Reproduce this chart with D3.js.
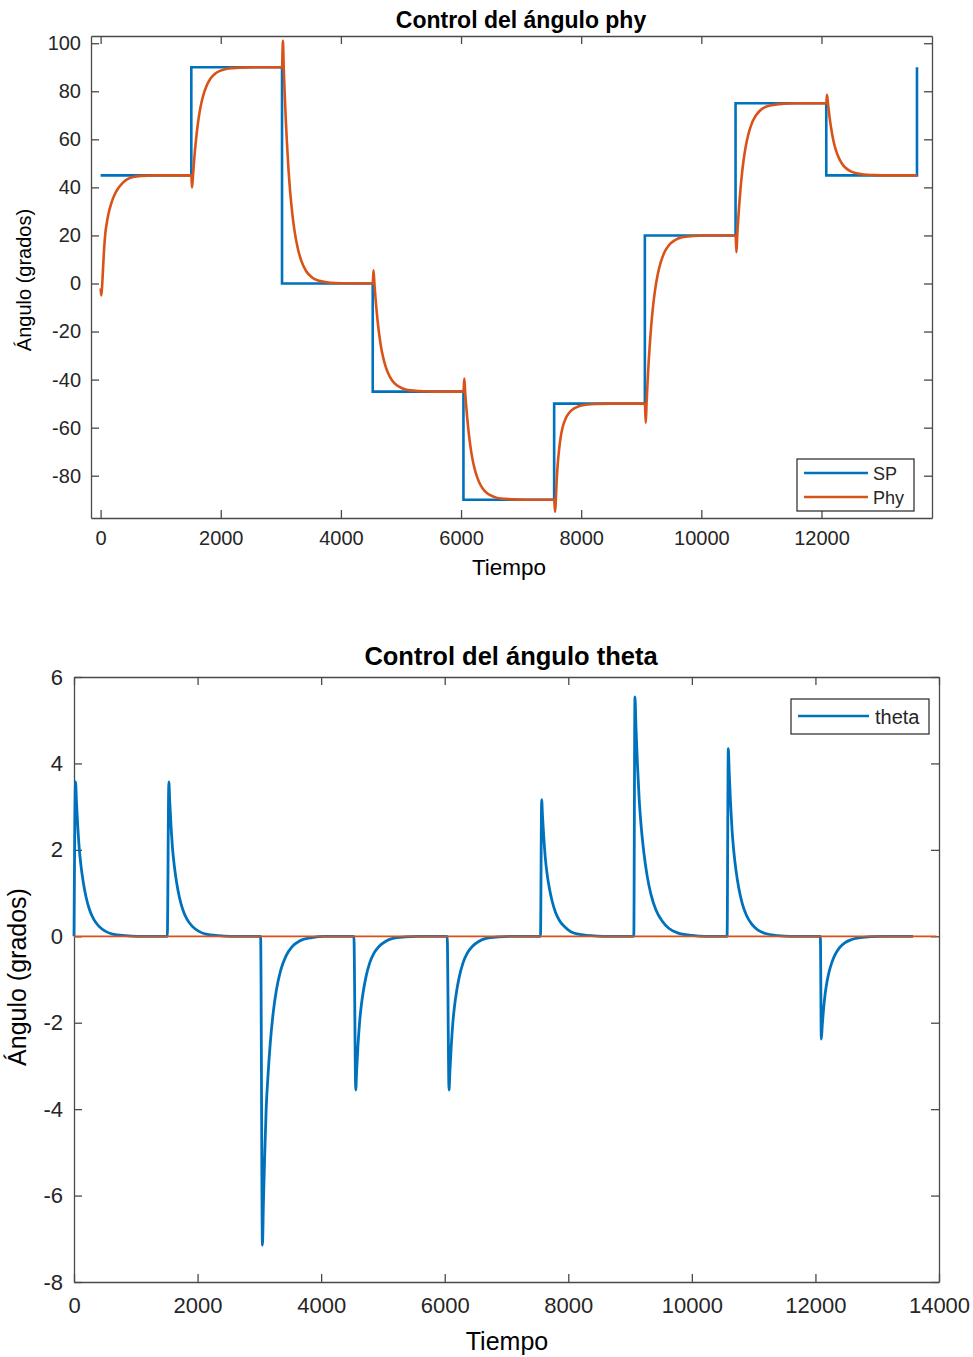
<!DOCTYPE html>
<html>
<head>
<meta charset="utf-8">
<script src="https://cdn.jsdelivr.net/npm/d3@7"></script>
<style>
  body { margin: 0; background: #fff; }
  svg { font-family: "Liberation Sans", Arial, Helvetica, sans-serif; }
</style>
</head>
<body>
<div class="chart"></div>
<script>
// ---- data ----
// top plot: set point (step changes) and measured phy angle
var spTime = [0, 1510, 3020, 4530, 6040, 7550, 9060, 10570, 12080, 13590];
var spValues = [45, 90, 0, -45, -90, -50, 20, 75, 45, 90];

var phyPoints = [
  [0, -2], [12, -5], [25, -1], [40, 6], [55, 13], [78, 20.8], [105, 25.5], [133, 29.2], [165, 32.3],
  [190, 34.3], [230, 36.8], [290, 39.5], [360, 41.7], [440, 43.3], [540, 44.3], [680, 44.8], [900, 45], [1510, 45],
  [1522, 40], [1538, 45], [1555, 50.7], [1572, 55.7], [1590, 60.3], [1615, 65.7], [1645, 70.9], [1680, 75.4],
  [1720, 79.2], [1770, 82.6], [1830, 85.3], [1910, 87.4], [2010, 88.7], [2130, 89.5], [2310, 89.8], [2510, 90], [3020, 90],
  [3035, 101], [3048, 90], [3065, 78.6], [3082, 68.6], [3100, 59.4], [3125, 48.6], [3155, 38.3], [3190, 29.3],
  [3230, 21.6], [3280, 14.9], [3340, 9.5], [3420, 5.2], [3520, 2.5], [3640, 1.1], [3820, 0.3], [4020, 0.1], [4530, 0],
  [4543, 5.5], [4558, 0], [4575, -5.7], [4592, -10.7], [4610, -15.3], [4635, -20.7], [4665, -25.9], [4700, -30.4],
  [4740, -34.2], [4790, -37.6], [4850, -40.3], [4930, -42.4], [5030, -43.7], [5150, -44.5], [5330, -44.8], [5530, -45], [6040, -45],
  [6055, -39.6], [6068, -45], [6085, -50.7], [6102, -55.7], [6120, -60.3], [6145, -65.7], [6175, -70.9], [6210, -75.4],
  [6250, -79.2], [6300, -82.6], [6360, -85.3], [6440, -87.4], [6540, -88.7], [6660, -89.5], [6840, -89.8], [7040, -90], [7550, -90],
  [7566, -95], [7578, -90], [7592, -82], [7610, -75], [7635, -68.5], [7665, -63], [7700, -59], [7745, -56],
  [7800, -53.8], [7870, -52.2], [7960, -51.1], [8080, -50.5], [8250, -50.15], [8500, -50], [9060, -50],
  [9075, -58], [9088, -50], [9105, -41.1], [9122, -33.3], [9140, -26.2], [9165, -17.8], [9195, -9.8], [9230, -2.75],
  [9270, 3.2], [9320, 8.45], [9380, 12.65], [9460, 15.9], [9560, 18], [9680, 19.2], [9860, 19.75], [10060, 20], [10570, 20],
  [10585, 13], [10598, 20], [10615, 27], [10632, 33.1], [10650, 38.7], [10675, 45.3], [10705, 51.6], [10740, 57.1],
  [10780, 61.8], [10830, 65.9], [10890, 69.2], [10970, 71.8], [11070, 73.5], [11190, 74.3], [11370, 74.8], [11570, 75], [12080, 75],
  [12092, 78.5], [12108, 75], [12125, 71.2], [12142, 67.9], [12160, 64.8], [12185, 61.2], [12215, 57.75], [12250, 54.75],
  [12290, 52.2], [12340, 49.95], [12400, 48.15], [12480, 46.75], [12580, 45.85], [12700, 45.35], [12880, 45.1], [13080, 45], [13590, 45]
];

var phyTicksX = [0, 2000, 4000, 6000, 8000, 10000, 12000];
var phyTicksY = [-80, -60, -40, -20, 0, 20, 40, 60, 80, 100];

// bottom plot: theta angle and its zero reference
var thetaPoints = [
  [0, 0], [25, 3.57], [40, 3.11], [60, 2.57], [85, 2.03], [115, 1.61], [150, 1.25], [195, 0.91], [250, 0.62],
  [320, 0.39], [405, 0.23], [505, 0.12], [625, 0.05], [825, 0.014], [1025, 0], [1510, 0],
  [1535, 3.57], [1550, 3.11], [1570, 2.57], [1595, 2.03], [1625, 1.61], [1660, 1.25], [1705, 0.91], [1760, 0.62],
  [1830, 0.39], [1915, 0.23], [2015, 0.12], [2135, 0.05], [2335, 0.014], [2535, 0], [3020, 0],
  [3050, -7.15], [3065, -6.22], [3085, -5.15], [3110, -4.0], [3140, -3.22], [3175, -2.5], [3220, -1.82], [3275, -1.25],
  [3345, -0.79], [3430, -0.46], [3530, -0.24], [3650, -0.11], [3850, -0.03], [4050, 0], [4530, 0],
  [4560, -3.56], [4575, -3.1], [4595, -2.56], [4620, -2.03], [4650, -1.6], [4685, -1.25], [4730, -0.91], [4785, -0.62],
  [4855, -0.39], [4940, -0.23], [5040, -0.12], [5160, -0.05], [5360, -0.014], [5560, 0], [6040, 0],
  [6070, -3.56], [6085, -3.1], [6105, -2.56], [6130, -2.03], [6160, -1.6], [6195, -1.25], [6240, -0.91], [6295, -0.62],
  [6365, -0.39], [6450, -0.23], [6550, -0.12], [6670, -0.05], [6870, -0.014], [7070, 0], [7550, 0],
  [7569, 3.16], [7584, 2.75], [7604, 2.28], [7629, 1.8], [7659, 1.42], [7694, 1.11], [7739, 0.81], [7794, 0.55],
  [7864, 0.35], [7949, 0.21], [8049, 0.1], [8169, 0.05], [8369, 0.013], [8569, 0], [9060, 0],
  [9079, 5.54], [9096, 4.82], [9119, 3.99], [9148, 3.16], [9183, 2.49], [9223, 1.94], [9275, 1.41], [9338, 0.97],
  [9419, 0.61], [9516, 0.36], [9631, 0.18], [9769, 0.08], [9999, 0.02], [10229, 0], [10570, 0],
  [10590, 4.34], [10605, 3.78], [10625, 3.12], [10650, 2.47], [10680, 1.95], [10715, 1.52], [10760, 1.11], [10815, 0.76],
  [10885, 0.48], [10970, 0.28], [11070, 0.14], [11190, 0.065], [11390, 0.017], [11590, 0], [12080, 0],
  [12095, -2.38], [12110, -2.07], [12130, -1.71], [12155, -1.36], [12185, -1.07], [12220, -0.83], [12265, -0.61], [12320, -0.42],
  [12390, -0.26], [12475, -0.15], [12575, -0.08], [12695, -0.036], [12895, -0.01], [13095, 0], [13580, 0]
];
var thetaRefTime = [0, 13960];
var thetaRefValues = [0, 0];

var thetaTicksX = [0, 2000, 4000, 6000, 8000, 10000, 12000, 14000];
var thetaTicksY = [-8, -6, -4, -2, 0, 2, 4, 6];

var blue = "#0072BD";
var orange = "#D95319";
var axisColor = "#4a4a4a";

var svg = d3.select(".chart")
  .append("svg")
  .attr("width", 973)
  .attr("height", 1357);

// draws a MATLAB style boxed axes
function drawBox(g, x, y, ticksX, ticksY, fontSize, padX, padY) {
  var right = x.range()[1], bot = y.range()[0], up = y.range()[1], left = x.range()[0];

  var bottomAxis = g.append("g")
    .attr("transform", `translate(0, ${bot})`)
    .call(d3.axisBottom(x).tickValues(ticksX).tickFormat(d3.format("d"))
      .tickSizeInner(-8).tickSizeOuter(0).tickPadding(padX));
  var leftAxis = g.append("g")
    .attr("transform", `translate(${left}, 0)`)
    .call(d3.axisLeft(y).tickValues(ticksY).tickFormat(function(d) { return String(d); })
      .tickSizeInner(-8).tickSizeOuter(0).tickPadding(padY));
  var topAxis = g.append("g")
    .attr("transform", `translate(0, ${up})`)
    .call(d3.axisTop(x).tickValues(ticksX).tickFormat("")
      .tickSizeInner(-8).tickSizeOuter(0));
  var rightAxis = g.append("g")
    .attr("transform", `translate(${right}, 0)`)
    .call(d3.axisRight(y).tickValues(ticksY).tickFormat("")
      .tickSizeInner(-8).tickSizeOuter(0));

  [bottomAxis, leftAxis, topAxis, rightAxis].forEach(function(a) {
    a.selectAll("path, line").attr("stroke", axisColor).attr("stroke-width", 1.3);
    a.selectAll("text").attr("font-size", fontSize).attr("fill", "#262626")
      .attr("font-family", "'Liberation Sans', Arial, sans-serif");
  });
}

// ---------------- top chart ----------------
var x1 = d3.scaleLinear().domain([-160, 13840]).range([91, 932]);
var y1 = d3.scaleLinear().domain([-97.6, 103]).range([518, 36]);

var topChart = svg.append("g");
drawBox(topChart, x1, y1, phyTicksX, phyTicksY, 20, 13, 10);

var spLine = d3.line()
  .x(function(d, i) { return x1(spTime[i]); })
  .y(function(d) { return y1(d); })
  .curve(d3.curveStepAfter);

topChart.append("path")
  .datum(spValues)
  .attr("d", spLine)
  .attr("fill", "none")
  .attr("stroke", blue)
  .attr("stroke-width", 2.6);

var phyLine = d3.line()
  .x(function(d) { return x1(d[0]); })
  .y(function(d) { return y1(d[1]); })
  .curve(d3.curveMonotoneX);

topChart.append("path")
  .datum(phyPoints)
  .attr("d", phyLine)
  .attr("fill", "none")
  .attr("stroke", orange)
  .attr("stroke-width", 2.6)
  .attr("stroke-linejoin", "round");

topChart.append("text")
  .attr("x", 521).attr("y", 28)
  .attr("text-anchor", "middle")
  .attr("font-size", 23).attr("font-weight", "bold")
  .attr("fill", "#000")
  .text("Control del ángulo phy");

topChart.append("text")
  .attr("x", 509).attr("y", 575)
  .attr("text-anchor", "middle")
  .attr("font-size", 22.5).attr("fill", "#000")
  .text("Tiempo");

topChart.append("text")
  .attr("transform", "translate(31, 280) rotate(-90)")
  .attr("text-anchor", "middle")
  .attr("font-size", 20).attr("fill", "#000")
  .text("Ángulo (grados)");

// legend
var leg1 = topChart.append("g");
leg1.append("rect")
  .attr("x", 797).attr("y", 459).attr("width", 117).attr("height", 52)
  .attr("fill", "#fff").attr("stroke", "#262626").attr("stroke-width", 1.2);
[["SP", blue, 473], ["Phy", orange, 497]].forEach(function(item) {
  leg1.append("line")
    .attr("x1", 804).attr("x2", 868).attr("y1", item[2]).attr("y2", item[2])
    .attr("stroke", item[1]).attr("stroke-width", 2.6);
  leg1.append("text")
    .attr("x", 873).attr("y", item[2] + 6.5)
    .attr("font-size", 18).attr("fill", "#262626")
    .text(item[0]);
});

// ---------------- bottom chart ----------------
var x2 = d3.scaleLinear().domain([0, 14000]).range([74, 939]);
var y2 = d3.scaleLinear().domain([-8, 6]).range([1282, 677]);

var bottomChart = svg.append("g");
drawBox(bottomChart, x2, y2, thetaTicksX, thetaTicksY, 22, 15, 11);

var thetaLine = d3.line()
  .x(function(d) { return x2(d[0]); })
  .y(function(d) { return y2(d[1]); })
  .curve(d3.curveMonotoneX);

bottomChart.append("path")
  .datum(thetaPoints)
  .attr("d", thetaLine)
  .attr("fill", "none")
  .attr("stroke", blue)
  .attr("stroke-width", 2.8)
  .attr("stroke-linejoin", "round");

var refLine = d3.line()
  .x(function(d, i) { return x2(thetaRefTime[i]); })
  .y(function(d) { return y2(d); });

bottomChart.append("path")
  .datum(thetaRefValues)
  .attr("d", refLine)
  .attr("fill", "none")
  .attr("stroke", orange)
  .attr("stroke-width", 1.8);

bottomChart.append("text")
  .attr("x", 511).attr("y", 665)
  .attr("text-anchor", "middle")
  .attr("font-size", 25.5).attr("font-weight", "bold")
  .attr("fill", "#000")
  .text("Control del ángulo theta");

bottomChart.append("text")
  .attr("x", 507).attr("y", 1350)
  .attr("text-anchor", "middle")
  .attr("font-size", 25).attr("fill", "#000")
  .text("Tiempo");

bottomChart.append("text")
  .attr("transform", "translate(26, 977) rotate(-90)")
  .attr("text-anchor", "middle")
  .attr("font-size", 25).attr("fill", "#000")
  .text("Ángulo (grados)");

var leg2 = bottomChart.append("g");
leg2.append("rect")
  .attr("x", 791).attr("y", 699).attr("width", 138).attr("height", 35)
  .attr("fill", "#fff").attr("stroke", "#262626").attr("stroke-width", 1.2);
leg2.append("line")
  .attr("x1", 798).attr("x2", 869).attr("y1", 716).attr("y2", 716)
  .attr("stroke", blue).attr("stroke-width", 2.6);
leg2.append("text")
  .attr("x", 875).attr("y", 724)
  .attr("font-size", 20).attr("fill", "#262626")
  .text("theta");
</script>
</body>
</html>
